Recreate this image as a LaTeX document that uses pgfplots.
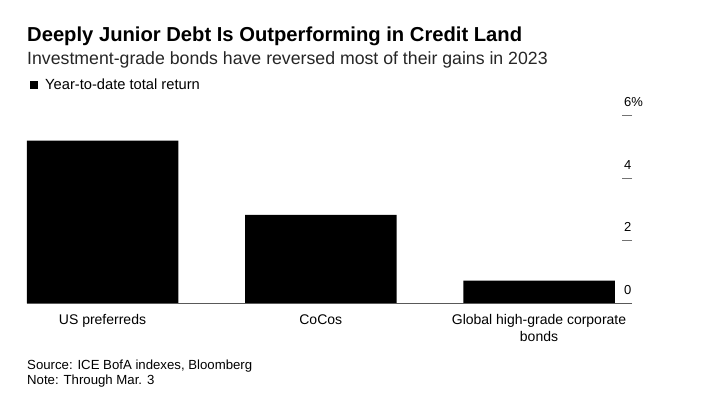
\documentclass[border=0pt]{standalone}
\usepackage{pgfplots}
\pgfplotsset{compat=1.18}
\usepackage{fontspec}
\setmainfont{Liberation Sans}
\begin{document}
\begin{tikzpicture}[x=1pt,y=1pt]
\path[use as bounding box] (0,0) rectangle (710,393);
\fill[white] (0,0) rectangle (710,393);
\node[anchor=base west, inner sep=0pt, font=\bfseries\fontsize{20.2}{23}\selectfont] at (27,351.3) {Deeply Junior Debt Is Outperforming in Credit Land};
\node[anchor=base west, inner sep=0pt, font=\fontsize{17.7}{20}\selectfont, text=black!85] at (27,328) {Investment-grade bonds have reversed most of their gains in 2023};
\fill[black] (30,304) rectangle (38,312);
\node[anchor=base west, inner sep=0pt, font=\fontsize{14.7}{17}\selectfont] at (45,303) {Year-to-date total return};
\begin{axis}[
  at={(27pt,89.5pt)}, anchor=south west,
  width=605pt, height=187.8pt, scale only axis,
  xmin=-0.346, xmax=2.426, ymin=0, ymax=6,
  axis line style={draw=none},
  xtick={0,1,2},
  xticklabels={\strut US preferreds, \strut CoCos, {\strut Global high-grade corporate\\bonds}},
  xtick style={draw=none},
  xticklabel style={anchor=north, inner sep=0pt, yshift=-8.25pt, align=center, font=\fontsize{14}{17.5}\selectfont},
  ytick={0,2,4,6},
  yticklabels={0,2,4,6\%},
  ytick pos=right, yticklabel pos=right,
  major tick length=10pt,
  ytick style={draw=black!55, line width=1.1pt},
  yticklabel style={anchor=base west, inner sep=0pt, xshift=-8pt, yshift=9pt, font=\fontsize{13}{15}\selectfont},
  /pgf/number format/assume math mode=true,
  clip=false,
]
\addplot[ybar, bar width=0.694, bar shift=0pt, fill=black, draw=none] coordinates {(0,5.20) (1,2.83) (2,0.73)};
\draw[black!65, line width=1pt] (rel axis cs:0,0) -- (rel axis cs:1,0);
\end{axis}
\node[anchor=base west, inner sep=0pt, font=\fontsize{13.2}{15}\selectfont] at (27,23) {Source: ICE BofA indexes, Bloomberg};
\node[anchor=base west, inner sep=0pt, font=\fontsize{13.2}{15}\selectfont] at (27,8) {Note: Through Mar. 3};
\end{tikzpicture}
\end{document}
